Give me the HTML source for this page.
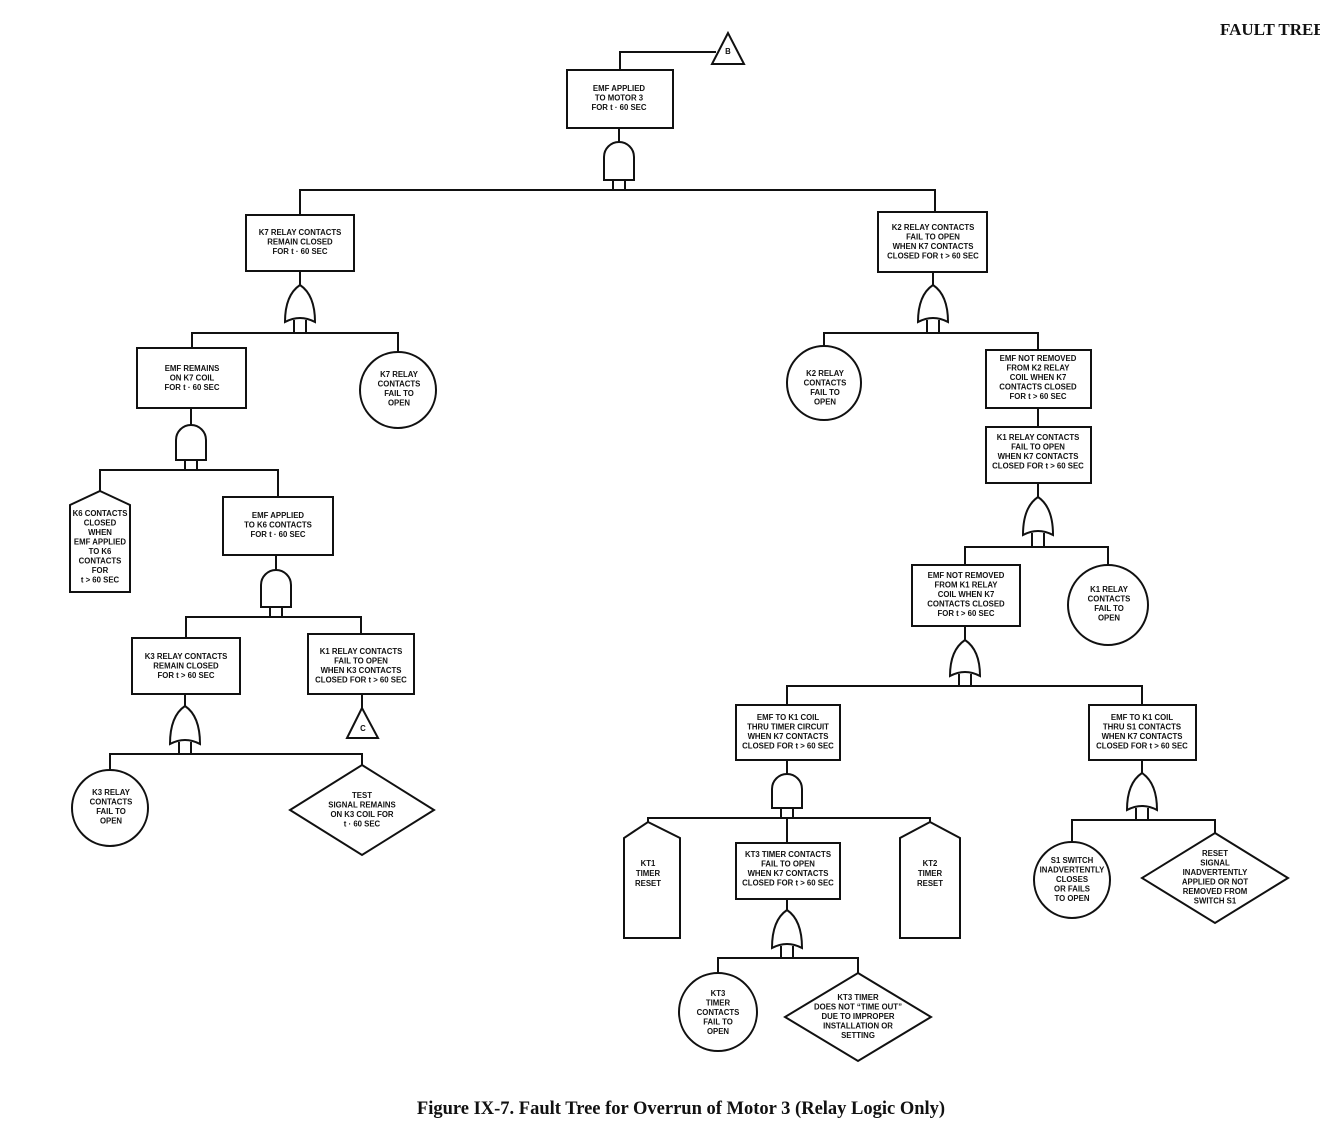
<!DOCTYPE html>
<html><head><meta charset="utf-8"><style>
html,body{margin:0;padding:0;background:#fff;overflow:hidden}
svg{display:block}
.t{font-family:"Liberation Sans",sans-serif;font-weight:bold;font-size:7.8px;text-anchor:middle;fill:#111}
</style></head><body>
<svg width="1320" height="1133" viewBox="0 0 1320 1133" xmlns="http://www.w3.org/2000/svg">
<g fill="none" stroke="#111" stroke-width="2">
<polygon points="728,33 712,64 744,64"/>
<polyline points="620,70 620,52 716,52"/>
<rect x="567" y="70" width="106" height="58"/>
<line x1="619" y1="128" x2="619" y2="142"/>
<path d="M604,180 L604,157 A15,15 0 0 1 634,157 L634,180 Z"/>
<line x1="613" y1="180" x2="613" y2="190"/><line x1="625" y1="180" x2="625" y2="190"/>
<polyline points="300,215 300,190 935,190 935,212"/>
<rect x="246" y="215" width="108" height="56"/>
<line x1="300" y1="271" x2="300" y2="285"/>
<path d="M285,322 Q285,295 300,285 Q315,295 315,322 Q300,314 285,322 Z"/>
<line x1="294" y1="320" x2="294" y2="333"/><line x1="306" y1="320" x2="306" y2="333"/>
<polyline points="192,348 192,333 398,333 398,352"/>
<rect x="137" y="348" width="109" height="60"/>
<circle cx="398" cy="390" r="38"/>
<line x1="191" y1="408" x2="191" y2="425"/>
<path d="M176,460 L176,440 A15,15 0 0 1 206,440 L206,460 Z"/>
<line x1="185" y1="460" x2="185" y2="470"/><line x1="197" y1="460" x2="197" y2="470"/>
<polyline points="100,491 100,470 278,470 278,497"/>
<polygon points="100,491 130,505 130,592 70,592 70,505"/>
<rect x="223" y="497" width="110" height="58"/>
<line x1="276" y1="555" x2="276" y2="570"/>
<path d="M261,607 L261,585 A15,15 0 0 1 291,585 L291,607 Z"/>
<line x1="270" y1="607" x2="270" y2="617"/><line x1="282" y1="607" x2="282" y2="617"/>
<polyline points="186,638 186,617 361,617 361,634"/>
<rect x="132" y="638" width="108" height="56"/>
<rect x="308" y="634" width="106" height="60"/>
<line x1="362" y1="694" x2="362" y2="708"/>
<polygon points="362,708 347,738 378,738"/>
<line x1="185" y1="694" x2="185" y2="706"/>
<path d="M170,744 Q170,716 185,706 Q200,716 200,744 Q185,736 170,744 Z"/>
<line x1="179" y1="742" x2="179" y2="754"/><line x1="191" y1="742" x2="191" y2="754"/>
<polyline points="110,770 110,754 362,754 362,765"/>
<circle cx="110" cy="808" r="38"/>
<polygon points="362,765 434,810 362,855 290,810"/>
<rect x="878" y="212" width="109" height="60"/>
<line x1="933" y1="272" x2="933" y2="285"/>
<path d="M918,322 Q918,295 933,285 Q948,295 948,322 Q933,314 918,322 Z"/>
<line x1="927" y1="320" x2="927" y2="333"/><line x1="939" y1="320" x2="939" y2="333"/>
<polyline points="824,346 824,333 1038,333 1038,350"/>
<circle cx="824" cy="383" r="37"/>
<rect x="986" y="350" width="105" height="58"/>
<line x1="1038" y1="408" x2="1038" y2="427"/>
<rect x="986" y="427" width="105" height="56"/>
<line x1="1038" y1="483" x2="1038" y2="497"/>
<path d="M1023,535 Q1023,507 1038,497 Q1053,507 1053,535 Q1038,527 1023,535 Z"/>
<line x1="1032" y1="533" x2="1032" y2="547"/><line x1="1044" y1="533" x2="1044" y2="547"/>
<polyline points="965,565 965,547 1108,547 1108,565"/>
<rect x="912" y="565" width="108" height="61"/>
<circle cx="1108" cy="605" r="40"/>
<line x1="965" y1="626" x2="965" y2="640"/>
<path d="M950,676 Q950,650 965,640 Q980,650 980,676 Q965,668 950,676 Z"/>
<line x1="959" y1="674" x2="959" y2="686"/><line x1="971" y1="674" x2="971" y2="686"/>
<polyline points="787,705 787,686 1142,686 1142,705"/>
<rect x="736" y="705" width="104" height="55"/>
<rect x="1089" y="705" width="107" height="55"/>
<line x1="787" y1="760" x2="787" y2="774"/>
<path d="M772,808 L772,789 A15,15 0 0 1 802,789 L802,808 Z"/>
<line x1="781" y1="808" x2="781" y2="818"/><line x1="793" y1="808" x2="793" y2="818"/>
<polyline points="648,822 648,818 930,818 930,822"/>
<line x1="787" y1="818" x2="787" y2="843"/>
<polygon points="648,822 680,838 680,938 624,938 624,838"/>
<polygon points="930,822 960,838 960,938 900,938 900,838"/>
<rect x="736" y="843" width="104" height="56"/>
<line x1="787" y1="899" x2="787" y2="910"/>
<path d="M772,948 Q772,920 787,910 Q802,920 802,948 Q787,940 772,948 Z"/>
<line x1="781" y1="946" x2="781" y2="958"/><line x1="793" y1="946" x2="793" y2="958"/>
<polyline points="718,973 718,958 858,958 858,973"/>
<circle cx="718" cy="1012" r="39"/>
<polygon points="858,973 931,1017 858,1061 785,1017"/>
<line x1="1142" y1="760" x2="1142" y2="773"/>
<path d="M1127,810 Q1127,783 1142,773 Q1157,783 1157,810 Q1142,802 1127,810 Z"/>
<line x1="1136" y1="808" x2="1136" y2="820"/><line x1="1148" y1="808" x2="1148" y2="820"/>
<polyline points="1072,842 1072,820 1215,820 1215,833"/>
<circle cx="1072" cy="880" r="38"/>
<polygon points="1215,833 1288,878 1215,923 1142,878"/>
</g>
<g class="t">
<text x="619" y="91"><tspan x="619">EMF APPLIED</tspan><tspan x="619" dy="9.5">TO MOTOR 3</tspan><tspan x="619" dy="9.5">FOR t · 60 SEC</tspan></text>
<text x="728" y="54">B</text>
<text x="300" y="235"><tspan x="300">K7 RELAY CONTACTS</tspan><tspan x="300" dy="9.5">REMAIN CLOSED</tspan><tspan x="300" dy="9.5">FOR t · 60 SEC</tspan></text>
<text x="192" y="371"><tspan x="192">EMF REMAINS</tspan><tspan x="192" dy="9.5">ON K7 COIL</tspan><tspan x="192" dy="9.5">FOR t · 60 SEC</tspan></text>
<text y="377"><tspan x="399">K7 RELAY</tspan><tspan x="399" dy="9.5">CONTACTS</tspan><tspan x="399" dy="9.5">FAIL TO</tspan><tspan x="399" dy="9.5">OPEN</tspan></text>
<text y="516"><tspan x="100">K6 CONTACTS</tspan><tspan x="100" dy="9.5">CLOSED</tspan><tspan x="100" dy="9.5">WHEN</tspan><tspan x="100" dy="9.5">EMF APPLIED</tspan><tspan x="100" dy="9.5">TO K6</tspan><tspan x="100" dy="9.5">CONTACTS</tspan><tspan x="100" dy="9.5">FOR</tspan><tspan x="100" dy="9.5">t &gt; 60 SEC</tspan></text>
<text y="518"><tspan x="278">EMF APPLIED</tspan><tspan x="278" dy="9.5">TO K6 CONTACTS</tspan><tspan x="278" dy="9.5">FOR t · 60 SEC</tspan></text>
<text y="659"><tspan x="186">K3 RELAY CONTACTS</tspan><tspan x="186" dy="9.5">REMAIN CLOSED</tspan><tspan x="186" dy="9.5">FOR t &gt; 60 SEC</tspan></text>
<text y="654"><tspan x="361">K1 RELAY CONTACTS</tspan><tspan x="361" dy="9.5">FAIL TO OPEN</tspan><tspan x="361" dy="9.5">WHEN K3 CONTACTS</tspan><tspan x="361" dy="9.5">CLOSED FOR t &gt; 60 SEC</tspan></text>
<text x="363" y="731">C</text>
<text y="795"><tspan x="111">K3 RELAY</tspan><tspan x="111" dy="9.5">CONTACTS</tspan><tspan x="111" dy="9.5">FAIL TO</tspan><tspan x="111" dy="9.5">OPEN</tspan></text>
<text y="798"><tspan x="362">TEST</tspan><tspan x="362" dy="9.5">SIGNAL REMAINS</tspan><tspan x="362" dy="9.5">ON K3 COIL FOR</tspan><tspan x="362" dy="9.5">t · 60 SEC</tspan></text>
<text y="230"><tspan x="933">K2 RELAY CONTACTS</tspan><tspan x="933" dy="9.5">FAIL TO OPEN</tspan><tspan x="933" dy="9.5">WHEN K7 CONTACTS</tspan><tspan x="933" dy="9.5">CLOSED FOR t &gt; 60 SEC</tspan></text>
<text y="376"><tspan x="825">K2 RELAY</tspan><tspan x="825" dy="9.5">CONTACTS</tspan><tspan x="825" dy="9.5">FAIL TO</tspan><tspan x="825" dy="9.5">OPEN</tspan></text>
<text y="361"><tspan x="1038">EMF NOT REMOVED</tspan><tspan x="1038" dy="9.5">FROM K2 RELAY</tspan><tspan x="1038" dy="9.5">COIL WHEN K7</tspan><tspan x="1038" dy="9.5">CONTACTS CLOSED</tspan><tspan x="1038" dy="9.5">FOR t &gt; 60 SEC</tspan></text>
<text y="440"><tspan x="1038">K1 RELAY CONTACTS</tspan><tspan x="1038" dy="9.5">FAIL TO OPEN</tspan><tspan x="1038" dy="9.5">WHEN K7 CONTACTS</tspan><tspan x="1038" dy="9.5">CLOSED FOR t &gt; 60 SEC</tspan></text>
<text y="578"><tspan x="966">EMF NOT REMOVED</tspan><tspan x="966" dy="9.5">FROM K1 RELAY</tspan><tspan x="966" dy="9.5">COIL WHEN K7</tspan><tspan x="966" dy="9.5">CONTACTS CLOSED</tspan><tspan x="966" dy="9.5">FOR t &gt; 60 SEC</tspan></text>
<text y="592"><tspan x="1109">K1 RELAY</tspan><tspan x="1109" dy="9.5">CONTACTS</tspan><tspan x="1109" dy="9.5">FAIL TO</tspan><tspan x="1109" dy="9.5">OPEN</tspan></text>
<text y="720"><tspan x="788">EMF TO K1 COIL</tspan><tspan x="788" dy="9.5">THRU TIMER CIRCUIT</tspan><tspan x="788" dy="9.5">WHEN K7 CONTACTS</tspan><tspan x="788" dy="9.5">CLOSED FOR t &gt; 60 SEC</tspan></text>
<text y="720"><tspan x="1142">EMF TO K1 COIL</tspan><tspan x="1142" dy="9.5">THRU S1 CONTACTS</tspan><tspan x="1142" dy="9.5">WHEN K7 CONTACTS</tspan><tspan x="1142" dy="9.5">CLOSED FOR t &gt; 60 SEC</tspan></text>
<text y="866"><tspan x="648">KT1</tspan><tspan x="648" dy="10">TIMER</tspan><tspan x="648" dy="10">RESET</tspan></text>
<text y="866"><tspan x="930">KT2</tspan><tspan x="930" dy="10">TIMER</tspan><tspan x="930" dy="10">RESET</tspan></text>
<text y="857"><tspan x="788">KT3 TIMER CONTACTS</tspan><tspan x="788" dy="9.5">FAIL TO OPEN</tspan><tspan x="788" dy="9.5">WHEN K7 CONTACTS</tspan><tspan x="788" dy="9.5">CLOSED FOR t &gt; 60 SEC</tspan></text>
<text y="996"><tspan x="718">KT3</tspan><tspan x="718" dy="9.5">TIMER</tspan><tspan x="718" dy="9.5">CONTACTS</tspan><tspan x="718" dy="9.5">FAIL TO</tspan><tspan x="718" dy="9.5">OPEN</tspan></text>
<text y="1000"><tspan x="858">KT3 TIMER</tspan><tspan x="858" dy="9.5">DOES NOT “TIME OUT”</tspan><tspan x="858" dy="9.5">DUE TO IMPROPER</tspan><tspan x="858" dy="9.5">INSTALLATION OR</tspan><tspan x="858" dy="9.5">SETTING</tspan></text>
<text y="863"><tspan x="1072">S1 SWITCH</tspan><tspan x="1072" dy="9.5">INADVERTENTLY</tspan><tspan x="1072" dy="9.5">CLOSES</tspan><tspan x="1072" dy="9.5">OR FAILS</tspan><tspan x="1072" dy="9.5">TO OPEN</tspan></text>
<text y="856"><tspan x="1215">RESET</tspan><tspan x="1215" dy="9.5">SIGNAL</tspan><tspan x="1215" dy="9.5">INADVERTENTLY</tspan><tspan x="1215" dy="9.5">APPLIED OR NOT</tspan><tspan x="1215" dy="9.5">REMOVED FROM</tspan><tspan x="1215" dy="9.5">SWITCH S1</tspan></text>
</g>
<text x="1220" y="35" font-family="Liberation Serif,serif" font-weight="bold" font-size="17" fill="#111">FAULT TREE</text>
<text x="681" y="1114" font-family="Liberation Serif,serif" font-weight="bold" font-size="18.5" text-anchor="middle" fill="#111">Figure IX-7.  Fault Tree for Overrun of Motor 3 (Relay Logic Only)</text>
</svg>
</body></html>
